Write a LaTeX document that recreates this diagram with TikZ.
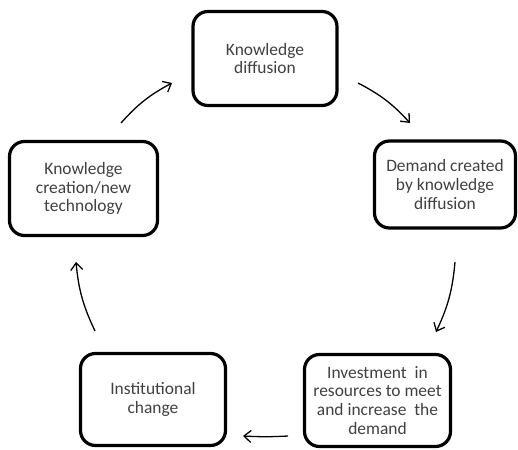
\documentclass[tikz,border=0pt]{standalone}
\usepackage{fontspec}
\setmainfont{Carlito}
\usetikzlibrary{arrows.meta}
\begin{document}
\begin{tikzpicture}[x=1bp,y=-1bp,
  cyclebox/.style={draw=black, line width=3.2bp, rounded corners=15bp, align=center,
    inner sep=0pt, font=\fontsize{17.5}{19}\selectfont, text=black!75},
  cyclearrow/.style={line width=1.3bp, -{Straight Barb[length=7bp,width=12bp,line width=1.3bp]}}]
\useasboundingbox (0,0) rectangle (518,450);
\node[cyclebox, minimum width=144bp, minimum height=94bp] (kd) at (265,58.5) {Knowledge\\diffusion};
\node[cyclebox, minimum width=141bp, minimum height=87bp] (dem) at (445,184.5) {Demand created\\by knowledge\\diffusion};
\node[cyclebox, minimum width=146bp, minimum height=92bp] (inv) at (377.5,400.5) {Investment\ \ in\\resources to meet\\and increase\ \ the\\demand};
\node[cyclebox, minimum width=148bp, minimum height=94bp] (kc) at (83.5,188.5) {Knowledge\\creation/new\\technology};
\node[cyclebox, minimum width=145bp, minimum height=92bp] (ic) at (153,399.5) {Institutional\\change};
\coordinate (a1s) at (121,123); \coordinate (a1e) at (172,83);
\coordinate (a2s) at (358,83);  \coordinate (a2e) at (410,123);
\coordinate (a3s) at (455,262); \coordinate (a3e) at (436,332);
\coordinate (a4s) at (288,436); \coordinate (a4e) at (243,436);
\coordinate (a5s) at (95,331);  \coordinate (a5e) at (76,262);
\draw[cyclearrow] (a1s) to[bend left=10] (a1e);
\draw[cyclearrow] (a2s) to[bend left=10] (a2e);
\draw[cyclearrow] (a3s) to[bend left=10] (a3e);
\draw[cyclearrow] (a4s) to[bend left=3] (a4e);
\draw[cyclearrow] (a5s) to[bend left=10] (a5e);
\end{tikzpicture}
\end{document}
